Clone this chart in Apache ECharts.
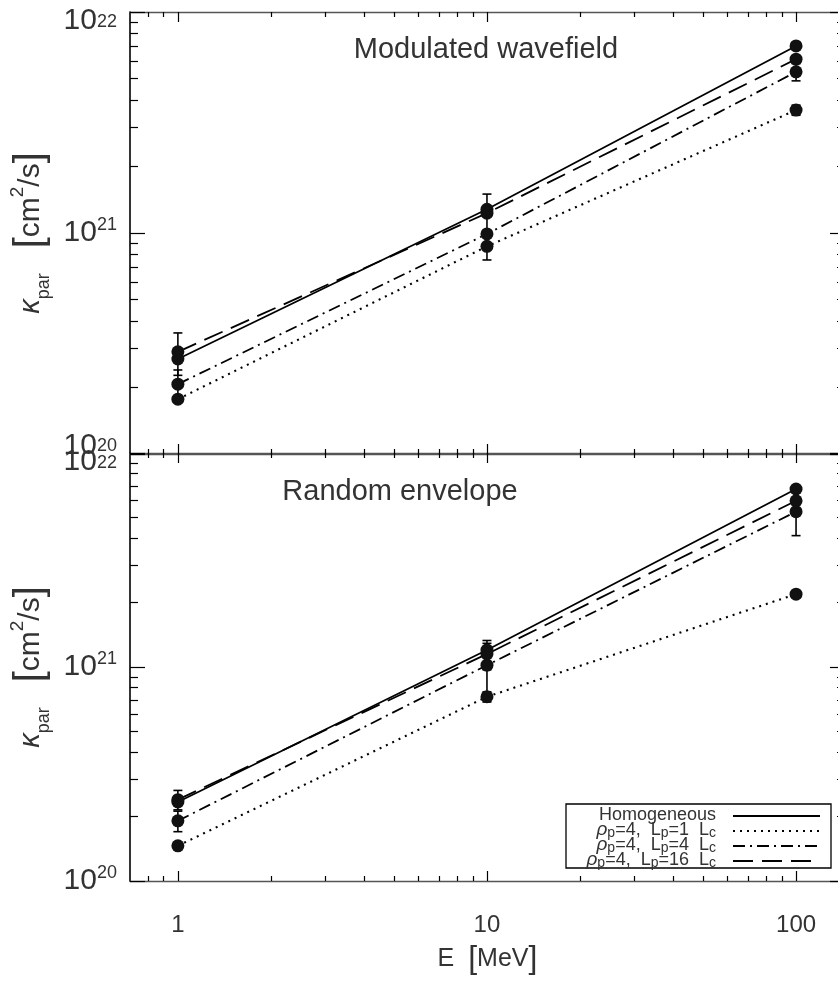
<!DOCTYPE html>
<html>
<head>
<meta charset="utf-8">
<script src="https://cdn.jsdelivr.net/npm/echarts@6/dist/echarts.min.js"></script>
<style>
  html, body { margin: 0; padding: 0; background: #ffffff; }
  #chart { width: 838px; height: 981px; }
</style>
</head>
<body>
<div id="chart"></div>
<script>
// Energies (MeV) at which the diffusion coefficient was computed
const energies = [1, 10, 100];

// Axis ticks
const xMajorTicks = [1, 10, 100];
const xMinorTicks = [0.8, 0.9, 2, 3, 4, 5, 6, 7, 8, 9, 20, 30, 40, 50, 60, 70, 80, 90];
const yMajorTicks = [1e20, 1e21, 1e22];
const yMinorTicks = [2e20, 3e20, 4e20, 5e20, 6e20, 7e20, 8e20, 9e20,
                     2e21, 3e21, 4e21, 5e21, 6e21, 7e21, 8e21, 9e21];

const caseNames = ['Homogeneous', 'ρp=4, Lp=1 Lc', 'ρp=4, Lp=4 Lc', 'ρp=4, Lp=16 Lc'];
const caseLegendText = [
  '{t|Homogeneous}',
  '{g|ρ}{s|p}{t|=4,  L}{s|p}{t|=1  L}{s|c}',
  '{g|ρ}{s|p}{t|=4,  L}{s|p}{t|=4  L}{s|c}',
  '{g|ρ}{s|p}{t|=4,  L}{s|p}{t|=16  L}{s|c}'
];
const panelTitles = ['Modulated wavefield', 'Random envelope'];

// Modulated wavefield: kappa_par [cm^2/s] and 1-sigma errors
const modHomogeneous = [2.69e20, 1.28e21, 7.02e21];
const modHomogeneousErr = [0, 0, 0];
const modLp1 = [1.77e20, 8.7e20, 3.6e21];
const modLp1Err = [0, 1.15e20, 0.19e21];
const modLp4 = [2.07e20, 9.9e20, 5.36e21];
const modLp4Err = [0.33e20, 0, 0.48e21];
const modLp16 = [2.90e20, 1.23e21, 6.12e21];
const modLp16Err = [0.63e20, 0.27e21, 0];

// Random envelope
const envHomogeneous = [2.34e20, 1.20e21, 6.79e21];
const envHomogeneousErr = [0, 0, 0];
const envLp1 = [1.46e20, 7.26e20, 2.19e21];
const envLp1Err = [0, 0.4e20, 0.08e21];
const envLp4 = [1.91e20, 1.02e21, 5.32e21];
const envLp4Err = [0.21e20, 0.27e21, 1.21e21];
const envLp16 = [2.40e20, 1.15e21, 5.98e21];
const envLp16Err = [0.25e20, 0.18e21, 0];

const panels = [
  { values: [modHomogeneous, modLp1, modLp4, modLp16],
    errors: [modHomogeneousErr, modLp1Err, modLp4Err, modLp16Err] },
  { values: [envHomogeneous, envLp1, envLp4, envLp16],
    errors: [envHomogeneousErr, envLp1Err, envLp4Err, envLp16Err] }
];

const lineStyles = [
  { type: 'solid', width: 1.8 },
  { type: [2, 5], width: 2.1 },
  { type: [12, 5, 2, 5], width: 1.8 },
  { type: [20, 9], width: 1.8 }
];

const FONT = 'Liberation Sans';
const INK = '#000000';
const TEXT = '#333333';

const X_MIN = 0.7, X_MAX = 144;
const grids = [
  { left: 130, top: 12, width: 715, height: 442, containLabel: false, outerBoundsMode: 'none' },
  { left: 130, top: 453, width: 715, height: 428, containLabel: false, outerBoundsMode: 'none' }
];

// vertical nudge of each power-of-ten label: the shared edge between the
// panels carries two labels, so the upper one is lifted and the lower one dropped
const yLabelShift = [
  { 22: 'd', 21: 'n', 20: 'u' },
  { 22: 'd', 21: 'n', 20: 'n' }
];

const xAxes = [], yAxes = [], series = [];

function tickAxis(base, values, length, extra) {
  return Object.assign({
    axisLine: { show: false },
    axisLabel: { show: false },
    splitLine: { show: false },
    axisTick: { show: true, inside: true, length: length, customValues: values,
                lineStyle: { color: INK, width: 1.2 } }
  }, base, extra || {});
}

const tickRich = {
  bn: { fontFamily: FONT, fontSize: 30, color: TEXT, lineHeight: 34 },
  sn: { fontFamily: FONT, fontSize: 18, color: TEXT, verticalAlign: 'top', lineHeight: 34 },
  bu: { fontFamily: FONT, fontSize: 30, color: TEXT, lineHeight: 34, padding: [0, 0, 16, 0] },
  su: { fontFamily: FONT, fontSize: 18, color: TEXT, verticalAlign: 'top', lineHeight: 34, padding: [0, 0, 16, 0] },
  bd: { fontFamily: FONT, fontSize: 30, color: TEXT, lineHeight: 34, padding: [18, 0, 0, 0] },
  sd: { fontFamily: FONT, fontSize: 18, color: TEXT, verticalAlign: 'top', lineHeight: 34, padding: [18, 0, 0, 0] }
};

grids.forEach((g, p) => {
  const isBottom = p === grids.length - 1;
  const xBase = { type: 'log', logBase: 10, min: X_MIN, max: X_MAX, gridIndex: p };
  xAxes.push(Object.assign({}, xBase, {
    position: 'bottom',
    axisLine: { show: true, lineStyle: { color: '#555', width: 1.3 } },
    axisTick: { show: true, inside: true, length: 10, customValues: xMajorTicks,
                lineStyle: { color: INK, width: 1.2 } },
    axisLabel: { show: isBottom, customValues: xMajorTicks, margin: 32,
                 fontFamily: FONT, fontSize: 24, color: TEXT,
                 formatter: v => String(Math.round(v)) },
    splitLine: { show: false },
    name: isBottom ? '{t|E  }{b|[}{t|MeV}{b|]}' : '',
    nameLocation: 'middle',
    nameGap: 62,
    nameTextStyle: { rich: {
      t: { fontFamily: FONT, fontSize: 25, color: TEXT },
      b: { fontFamily: FONT, fontSize: 32, color: TEXT }
    } }
  }));
  xAxes.push(tickAxis(xBase, xMinorTicks, 5, { position: 'bottom' }));
  xAxes.push(Object.assign({}, xBase, {
    position: 'top',
    axisLine: { show: true, lineStyle: { color: '#555', width: 1.3 } },
    axisTick: { show: true, inside: true, length: 10, customValues: xMajorTicks,
                lineStyle: { color: INK, width: 1.2 } },
    axisLabel: { show: false },
    splitLine: { show: false }
  }));
  xAxes.push(tickAxis(xBase, xMinorTicks, 5, { position: 'top' }));

  const yBase = { type: 'log', logBase: 10, min: 1e20, max: 1e22, gridIndex: p };
  yAxes.push(Object.assign({}, yBase, {
    position: 'left',
    axisLine: { show: true, lineStyle: { color: INK, width: 1.6 } },
    axisTick: { show: true, inside: true, length: 15, customValues: yMajorTicks,
                lineStyle: { color: INK, width: 1.2 } },
    axisLabel: {
      show: true, customValues: yMajorTicks, margin: 13,
      showMinLabel: true, showMaxLabel: true,
      formatter: v => {
        const e = Math.round(Math.log10(v));
        const k = yLabelShift[p][e];
        return '{b' + k + '|10}{s' + k + '|' + e + '}';
      },
      rich: tickRich
    },
    splitLine: { show: false },
    name: '{k|κ}{sub|par}{t|   }{br|[}{t|cm}{sup|2}{t|/s}{br|]}',
    nameLocation: 'middle',
    nameRotate: 90,
    nameGap: 76,
    nameTextStyle: { rich: {
      k: { fontFamily: FONT, fontSize: 29, fontStyle: 'italic', color: TEXT, lineHeight: 44 },
      sub: { fontFamily: FONT, fontSize: 18, color: TEXT, verticalAlign: 'bottom', lineHeight: 22 },
      t: { fontFamily: FONT, fontSize: 30, color: TEXT, lineHeight: 44 },
      sup: { fontFamily: FONT, fontSize: 19, color: TEXT, verticalAlign: 'top', lineHeight: 20 },
      br: { fontFamily: FONT, fontSize: 40, color: TEXT, lineHeight: 44 }
    } }
  }));
  yAxes.push(tickAxis(yBase, yMinorTicks, 8, { position: 'left' }));
  yAxes.push(Object.assign({}, yBase, {
    position: 'right',
    axisLine: { show: true, lineStyle: { color: INK, width: 1.6 } },
    axisTick: { show: true, inside: true, length: 15, customValues: yMajorTicks,
                lineStyle: { color: INK, width: 1.2 } },
    axisLabel: { show: false },
    splitLine: { show: false }
  }));
  yAxes.push(tickAxis(yBase, yMinorTicks, 8, { position: 'right' }));

  const xi = p * 4, yi = p * 4;
  const panel = panels[p];

  // curves
  panel.values.forEach((vals, c) => {
    series.push({
      type: 'line', name: caseNames[c], xAxisIndex: xi, yAxisIndex: yi,
      data: energies.map((e, k) => [e, vals[k]]),
      symbol: 'none', silent: true, z: 2,
      lineStyle: { color: INK, width: lineStyles[c].width, type: lineStyles[c].type }
    });
  });

  // error bars
  const errData = [];
  panel.values.forEach((vals, c) => {
    energies.forEach((e, k) => {
      const err = panel.errors[c][k];
      if (err > 0) errData.push([e, vals[k] - err, vals[k] + err]);
    });
  });
  series.push({
    type: 'custom', xAxisIndex: xi, yAxisIndex: yi, silent: true, z: 3,
    data: errData,
    renderItem: (params, api) => {
      const top = api.coord([api.value(0), api.value(2)]);
      const bot = api.coord([api.value(0), api.value(1)]);
      const half = 4.5;
      const st = { stroke: INK, lineWidth: 1.6 };
      return {
        type: 'group',
        children: [
          { type: 'line', shape: { x1: top[0], y1: top[1], x2: bot[0], y2: bot[1] }, style: st },
          { type: 'line', shape: { x1: top[0] - half, y1: top[1], x2: top[0] + half, y2: top[1] }, style: st },
          { type: 'line', shape: { x1: bot[0] - half, y1: bot[1], x2: bot[0] + half, y2: bot[1] }, style: st }
        ]
      };
    }
  });

  // data points
  panel.values.forEach((vals, c) => {
    series.push({
      type: 'scatter', name: caseNames[c] + ' points', xAxisIndex: xi, yAxisIndex: yi,
      data: energies.map((e, k) => [e, vals[k]]),
      symbol: 'circle', symbolSize: 13, silent: true, z: 4,
      itemStyle: { color: '#111111', opacity: 1 }
    });
  });
});

// Panel titles and the key in the lower panel
const graphic = [
  { type: 'text', x: 486, y: 50, style: { text: panelTitles[0], fontFamily: FONT, fontSize: 29,
      fill: TEXT, align: 'center', verticalAlign: 'middle' } },
  { type: 'text', x: 400, y: 492, style: { text: panelTitles[1], fontFamily: FONT, fontSize: 29,
      fill: TEXT, align: 'center', verticalAlign: 'middle' } },
  { type: 'rect', shape: { x: 566, y: 804, width: 265, height: 64 },
    style: { fill: '#ffffff', stroke: INK, lineWidth: 1.3 }, z: 10 }
];
const legendRowY = [815, 830, 845, 860];
caseNames.forEach((n, c) => {
  graphic.push({
    type: 'text', x: 716, y: legendRowY[c], z: 11,
    style: {
      text: caseLegendText[c], align: 'right', verticalAlign: 'middle',
      rich: {
        t: { fontFamily: FONT, fontSize: 18, fill: TEXT, lineHeight: 20 },
        g: { fontFamily: FONT, fontSize: 19, fontStyle: 'italic', fill: TEXT, lineHeight: 20 },
        s: { fontFamily: FONT, fontSize: 14, fill: TEXT, verticalAlign: 'bottom', lineHeight: 12 }
      }
    }
  });
  const ls = lineStyles[c];
  graphic.push({
    type: 'line', z: 11,
    shape: { x1: 733, y1: legendRowY[c] + 1, x2: 820, y2: legendRowY[c] + 1 },
    style: { stroke: INK, lineWidth: ls.width, lineDash: Array.isArray(ls.type) ? ls.type : null }
  });
});

const chart = echarts.init(document.getElementById('chart'), null, { renderer: 'canvas' });
chart.setOption({
  animation: false,
  backgroundColor: '#ffffff',
  textStyle: { fontFamily: FONT, color: TEXT },
  grid: grids,
  xAxis: xAxes,
  yAxis: yAxes,
  series: series,
  graphic: graphic
});
</script>
</body>
</html>
